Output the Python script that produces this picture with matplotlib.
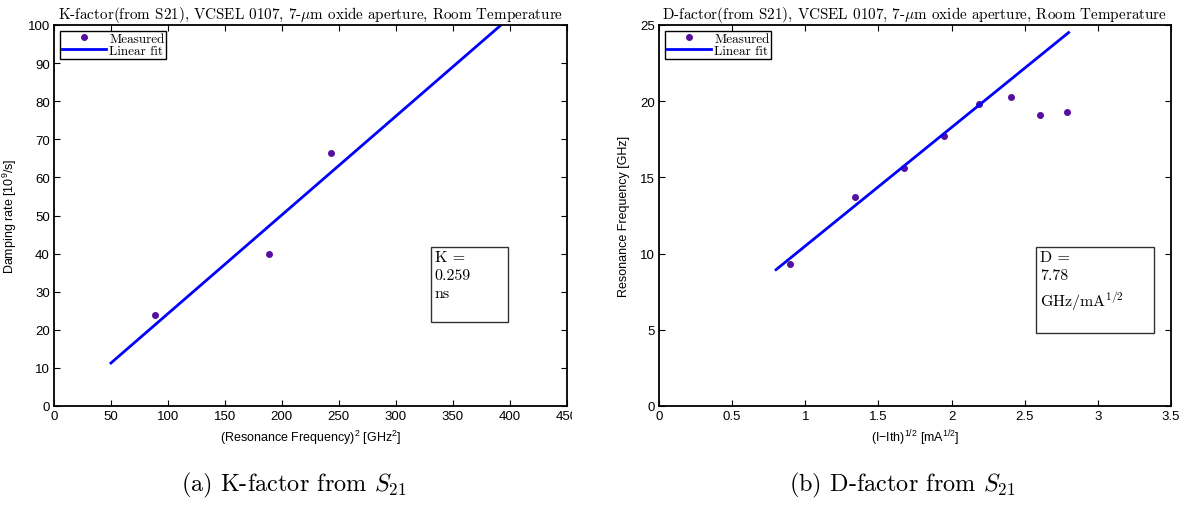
#!/usr/bin/env python3
"""
K-factor / D-factor from S21 fits, VCSEL 0107
"""

import numpy as np
import matplotlib
matplotlib.use('Agg')
import matplotlib.pyplot as plt
from matplotlib.patches import Rectangle

plt.rcParams['font.family'] = ['Liberation Sans', 'DejaVu Sans']
plt.rcParams['mathtext.fontset'] = 'custom'
plt.rcParams['mathtext.rm'] = 'Liberation Sans'
plt.rcParams['mathtext.it'] = 'Liberation Sans:italic'
plt.rcParams['axes.unicode_minus'] = False

SERIF = 'cmr10'

# K-factor data: damping rate vs squared resonance frequency
fr_squared = [88.6, 189.2, 243.0]          # GHz^2
damping_rate = [23.9, 39.8, 66.3]          # 1e9 /s
K_FACTOR = 0.259                           # ns
K_OFFSET = -1.67
K_FIT_RANGE = [50, 400]

# D-factor data: resonance frequency vs sqrt(I - Ith)
sqrt_current = [0.897, 1.343, 1.672, 1.949, 2.188, 2.406, 2.604, 2.792]   # mA^1/2
res_freq = [9.30, 13.72, 15.59, 17.70, 19.83, 20.26, 19.12, 19.30]       # GHz
D_FACTOR = 7.78                             # GHz/mA^1/2
D_OFFSET = 2.72
D_FIT_RANGE = [0.8, 2.8]

DOT_COLOR = '#55109e'
LINE_COLOR = '#0000ff'

W, H = 1190, 506
fig = plt.figure(figsize=(W / 100, H / 100), dpi=100)


def px_axes(x0, x1, y0, y1):
    return fig.add_axes([x0 / W, 1 - y1 / H, (x1 - x0) / W, (y1 - y0) / H])


def style_axes(ax):
    ax.tick_params(direction='in', top=True, right=True, length=4,
                   width=0.8, labelsize=9.5, pad=3)
    for sp in ax.spines.values():
        sp.set_linewidth(1.3)


def add_box(ax, x0, y0, x1, y1, text):
    ax.add_patch(Rectangle((x0, y0), x1 - x0, y1 - y0, transform=ax.transAxes,
                           fill=False, edgecolor='#333333', linewidth=1.0,
                           clip_on=False))
    ax.text(x0 + 0.008, y1 - 0.008, text, transform=ax.transAxes,
            family=SERIF, math_fontfamily='cm', fontsize=11.5,
            va='top', ha='left', linespacing=1.42)


def add_legend(ax):
    leg = ax.legend(loc='upper left', prop={'family': SERIF, 'size': 9.5},
                    fancybox=False, edgecolor='black', framealpha=1,
                    borderpad=0.12, labelspacing=0.0, handlelength=3.4,
                    handletextpad=0.2, borderaxespad=0.45)
    leg.get_frame().set_linewidth(1.0)


# (a) K-factor
ax1 = px_axes(54, 566.5, 26, 407)
ax1.plot(fr_squared, damping_rate, 'o', ms=4, color=DOT_COLOR, label='Measured')
kx = np.array(K_FIT_RANGE, dtype=float)
ax1.plot(kx, K_FACTOR * kx + K_OFFSET, '-', lw=2, color=LINE_COLOR, label='Linear fit')
ax1.set_xlim(0, 450)
ax1.set_ylim(0, 100)
ax1.set_xticks(np.arange(0, 451, 50))
ax1.set_yticks(np.arange(0, 101, 10))
style_axes(ax1)
ax1.set_xlabel('(Resonance Frequency)$^2$ [GHz$^2$]', fontsize=9, labelpad=4)
ax1.set_ylabel('Damping rate [10$^9$/s]', fontsize=9, labelpad=6)
ax1.set_title(r'K-factor(from S21), VCSEL 0107, 7-$\mu$m oxide aperture, Room Temperature',
              family=SERIF, math_fontfamily='cm', fontsize=10.9, pad=5)
add_legend(ax1)
add_box(ax1, 0.735, 0.221, 0.885, 0.4168, 'K =\n0.259\nns')

# (b) D-factor
ax2 = px_axes(659, 1171, 26, 407)
ax2.plot(sqrt_current, res_freq, 'o', ms=4, color=DOT_COLOR, label='Measured')
dx = np.array(D_FIT_RANGE, dtype=float)
ax2.plot(dx, D_FACTOR * dx + D_OFFSET, '-', lw=2, color=LINE_COLOR, label='Linear fit')
ax2.set_xlim(0, 3.5)
ax2.set_ylim(0, 25)
ax2.set_xticks(np.arange(0, 3.51, 0.5))
ax2.set_xticklabels(['0', '0.5', '1', '1.5', '2', '2.5', '3', '3.5'])
ax2.set_yticks(np.arange(0, 26, 5))
style_axes(ax2)
ax2.set_xlabel('(I\u2212Ith)$^{1/2}$ [mA$^{1/2}$]', fontsize=9, labelpad=4)
ax2.set_ylabel('Resonance Frequency [GHz]', fontsize=9, labelpad=7)
ax2.set_title(r'D-factor(from S21), VCSEL 0107, 7-$\mu$m oxide aperture, Room Temperature',
              family=SERIF, math_fontfamily='cm', fontsize=10.9, pad=5)
add_legend(ax2)
add_box(ax2, 0.7357, 0.1905, 0.9668, 0.4168, 'D =\n7.78\nGHz/mA$^{1/2}$')

# the left panel is trimmed just past its last tick label
fig.add_artist(Rectangle((572 / W, 1 - 425 / H), 25 / W, 17 / H,
                         transform=fig.transFigure, facecolor='white',
                         edgecolor='none', zorder=10))

# subfigure captions
fig.text(294 / W, 1 - 485 / H, '(a) K-factor from $S_{21}$', family=SERIF,
         math_fontfamily='cm', fontsize=17.5, ha='center', va='center')
fig.text(902 / W, 1 - 485 / H, '(b) D-factor from $S_{21}$', family=SERIF,
         math_fontfamily='cm', fontsize=17.5, ha='center', va='center')

fig.savefig('out.png', dpi=100)
